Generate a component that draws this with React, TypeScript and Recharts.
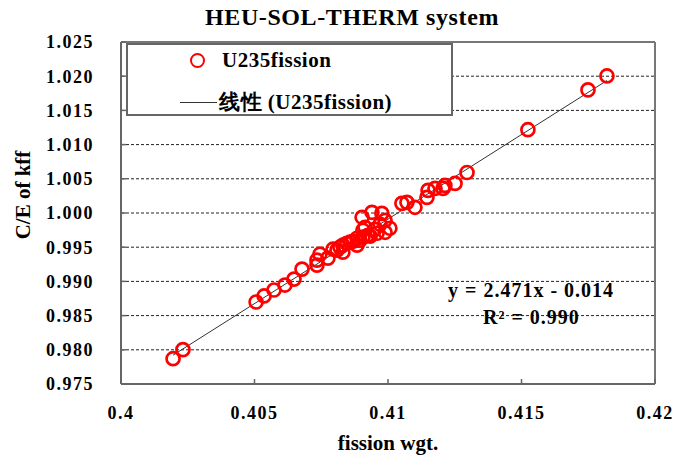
import React from "react";
import { CartesianGrid, ReferenceLine, Scatter, ScatterChart, XAxis, YAxis } from "recharts";

// fission weight (x) and C/E of kff (y)
const fissionWgt = [
  0.40195, 0.40232, 0.40506, 0.40536, 0.40573, 0.40614, 0.40648, 0.40678, 0.40734, 0.40734,
  0.40745, 0.40775, 0.40809, 0.40831, 0.40831, 0.40858, 0.40884, 0.40884, 0.40906, 0.40906,
  0.40903, 0.40914, 0.40925, 0.4094, 0.40959, 0.40977, 0.40989, 0.40989, 0.41007, 0.41052,
  0.41071, 0.41101, 0.41146, 0.4115, 0.41176, 0.41206, 0.41213, 0.41251, 0.41296, 0.41524,
  0.41749, 0.4182, 0.40794, 0.4082, 0.40846, 0.40869, 0.40895, 0.40933, 0.40951, 0.4097,
];
const ceKff = [
  0.9787, 0.98002, 0.98699, 0.98787, 0.98874, 0.98947, 0.99034, 0.9918, 0.99238, 0.99311,
  0.99398, 0.9934, 0.99457, 0.99529, 0.99427, 0.99573, 0.99631, 0.99529, 0.99646, 0.99748,
  0.99937, 0.99791, 0.99675, 1.0001, 0.99704, 0.99995, 0.99893, 0.99718, 0.99777, 1.00141,
  1.00156, 1.00083, 1.00229, 1.00331, 1.0036, 1.0036, 1.00403, 1.00432, 1.00592, 1.01218,
  1.018, 1.02004, 0.99471, 0.995, 0.99558, 0.99587, 0.99602, 0.9966, 0.99762, 0.99835,
];

const xTicks = [0.4, 0.405, 0.41, 0.415, 0.42];
const yTicks = [0.975, 0.98, 0.985, 0.99, 0.995, 1.0, 1.005, 1.01, 1.015, 1.02, 1.025];

const slope = 2.471;
const intercept = -0.014;

const points = fissionWgt.map((x, i) => ({ x, y: ceKff[i] }));
const xMin = Math.min(...fissionWgt);
const xMax = Math.max(...fissionWgt);
const trend = [
  { x: xMin, y: slope * xMin + intercept },
  { x: xMax, y: slope * xMax + intercept },
];

const serif = "Times New Roman, Liberation Serif, DejaVu Serif, serif";
const labelStyle = { fontFamily: serif, fontSize: 18, fontWeight: 700, letterSpacing: 1.5, fill: "#000" };

const RedRing = (props: any) => (
  <circle cx={props.cx} cy={props.cy} r={6.5} fill="none" stroke="#ff0000" strokeWidth={2.7} />
);

const XTick = (props: any) => (
  <text x={props.x} y={props.y} textAnchor="middle" dy="0.71em" style={labelStyle}>
    {String(props.payload.value)}
  </text>
);

const YTick = (props: any) => (
  <text x={props.x} y={props.y} textAnchor="end" dy="0.355em" style={labelStyle}>
    {props.payload.value.toFixed(3)}
  </text>
);

export default function App() {
  return (
    <div style={{ position: "absolute", left: 0, top: 0, width: 677, height: 457, background: "#fff", fontFamily: serif }}>
      <ScatterChart width={677} height={457} margin={{ top: 42, right: 22, left: 0, bottom: 0 }}>
        <CartesianGrid vertical={false} stroke="#222" strokeDasharray="3 2" />
        <XAxis
          type="number"
          dataKey="x"
          domain={[0.4, 0.42]}
          ticks={xTicks}
          height={73}
          tick={XTick}
          tickSize={-5}
          tickMargin={27}
          axisLine={{ stroke: "#666", strokeWidth: 2 }}
          tickLine={{ stroke: "#666", strokeWidth: 1.5 }}
        />
        <YAxis
          type="number"
          dataKey="y"
          domain={[0.975, 1.025]}
          ticks={yTicks}
          width={121}
          tick={YTick}
          tickSize={-5}
          tickMargin={32}
          axisLine={{ stroke: "#666", strokeWidth: 2 }}
          tickLine={{ stroke: "#666", strokeWidth: 1.5 }}
        />
        <ReferenceLine y={1.025} stroke="#777" strokeWidth={2} />
        <ReferenceLine x={0.42} stroke="#777" strokeWidth={2} />
        <ReferenceLine segment={trend} stroke="#333" strokeWidth={1} />
        <Scatter data={points} shape={RedRing} isAnimationActive={false} />
      </ScatterChart>

      <div style={{ position: "absolute", left: 205, top: 4, fontSize: 24, fontWeight: 700, letterSpacing: 0.6, whiteSpace: "nowrap" }}>
        HEU-SOL-THERM system
      </div>

      <div
        style={{
          position: "absolute",
          left: 8,
          top: 195,
          transform: "translate(-50%, -50%) rotate(-90deg)",
          marginLeft: 15,
          fontSize: 21,
          fontWeight: 700,
          whiteSpace: "nowrap",
        }}
      >
        C/E of kff
      </div>

      <div style={{ position: "absolute", left: 388, top: 443, transform: "translate(-50%, -50%)", fontSize: 21, fontWeight: 700, whiteSpace: "nowrap" }}>
        fission wgt.
      </div>

      <div
        style={{
          position: "absolute",
          left: 126,
          top: 43,
          width: 323,
          height: 69,
          border: "2px solid #666",
          background: "#fff",
          fontSize: 21,
          fontWeight: 700,
          letterSpacing: 0.5,
        }}
      >
        <div style={{ position: "absolute", left: 62, top: 8, width: 15, height: 15, borderRadius: "50%", border: "2.7px solid #ff0000", boxSizing: "border-box" }} />
        <div style={{ position: "absolute", left: 94, top: 3, whiteSpace: "nowrap" }}>U235fission</div>
        <div style={{ position: "absolute", left: 52, top: 58, width: 37, borderTop: "1px solid #333", marginTop: -1 }} />
        <div style={{ position: "absolute", left: 91, top: 43, whiteSpace: "nowrap" }}>
          线性 (U235fission)
        </div>
      </div>

      <div style={{ position: "absolute", left: 448, top: 279, fontSize: 20, fontWeight: 700, letterSpacing: 1, whiteSpace: "nowrap" }}>
        y = 2.471x - 0.014
      </div>
      <div style={{ position: "absolute", left: 483, top: 306, fontSize: 20, fontWeight: 700, letterSpacing: 1, whiteSpace: "nowrap" }}>
        R² = 0.990
      </div>
    </div>
  );
}
